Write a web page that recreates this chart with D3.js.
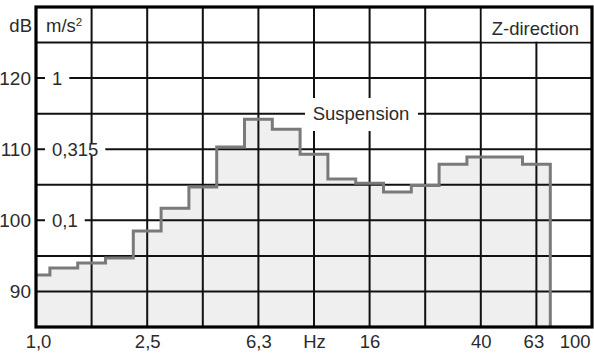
<!DOCTYPE html>
<html>
<head>
<meta charset="utf-8">
<script src="https://cdn.jsdelivr.net/npm/d3@7"></script>
<style>
  html, body { margin: 0; padding: 0; background: #fff; }
  svg { display: block; }
  text { font-family: "Liberation Sans", Arial, Helvetica, sans-serif; fill: #2b2b2b; }
</style>
</head>
<body>
<svg id="chart" width="594" height="353"></svg>
<script>
// ---- data ----
const bandCenters = [1.0, 1.25, 1.6, 2, 2.5, 3.15, 4, 5, 6.3, 8, 10, 12.5, 16, 20, 25, 31.5, 40, 50, 63];
const levelsDb   = [92.3, 93.3, 94.0, 94.7, 98.5, 101.7, 104.7, 110.3, 114.2, 112.8, 109.3, 105.8, 105.2, 104.0, 104.9, 107.9, 108.9, 108.9, 107.9];
const xGridIndex = [0, 1, 2, 3, 4, 5, 6, 7, 8, 9, 10];           // fifths of a decade
const xTickIndex = [0, 2, 4, 5, 6, 8, 9, 10];
const xTickLabels = ["1,0", "2,5", "6,3", "Hz", "16", "40", "63", "100"];
const dbGrid = [90, 95, 100, 105, 110, 115, 120, 125];
const dbTicks = [120, 110, 100, 90];
const accelTicksDb = [120, 110, 100];
const accelLabels = ["1", "0,315", "0,1"];

// ---- layout ----
const svg = d3.select("#chart");
const L = 36, R = 592, T = 7, B = 327;
const x = d3.scaleLog().domain([1, 100]).range([L, R]);
const y = d3.scaleLinear().domain([85, 130]).range([B, T]);
const fifth = i => Math.pow(10, i / 5);
const edgeLo = i => Math.max(1, Math.pow(10, (i - 0.5) / 10));
const edgeHi = i => Math.pow(10, (i + 0.5) / 10);

// step points
const pts = bandCenters.map((c, i) => [edgeLo(i), levelsDb[i]]);
const lastI = bandCenters.length - 1;
pts.push([edgeHi(lastI), levelsDb[lastI]]);

// fill
const area = d3.area().curve(d3.curveStepAfter)
  .x(d => x(d[0])).y0(y(85)).y1(d => y(d[1]));
svg.append("path").datum(pts).attr("d", area).attr("fill", "#efefef");

// grid
const grid = svg.append("g").attr("stroke", "#111").attr("stroke-width", 2);
grid.selectAll("line.v").data(xGridIndex.slice(1, -1)).join("line")
  .attr("x1", i => x(fifth(i))).attr("x2", i => x(fifth(i)))
  .attr("y1", T).attr("y2", B);
grid.selectAll("line.h").data(dbGrid).join("line")
  .attr("x1", L).attr("x2", R)
  .attr("y1", d => y(d)).attr("y2", d => y(d));

// step line
const linePts = pts.concat([[edgeHi(lastI), 85]]);
const line = d3.line().curve(d3.curveStepAfter).x(d => x(d[0])).y(d => y(d[1]));
svg.append("path").datum(linePts).attr("d", line)
  .attr("fill", "none").attr("stroke", "#7a7a7a").attr("stroke-width", 3);

// white label boxes
const fs = 18.5;
// Z-direction box
svg.append("rect").attr("x", x(fifth(8)) + 1).attr("y", T + 1)
  .attr("width", R - x(fifth(8)) - 2).attr("height", y(125) - T - 2).attr("fill", "#fff");
svg.append("text").attr("x", (x(fifth(8)) + R) / 2 - 1).attr("y", 35)
  .attr("text-anchor", "middle").attr("font-size", fs).text("Z-direction");

// Suspension box
svg.append("rect").attr("x", 305).attr("y", 98).attr("width", 113).attr("height", 33).attr("fill", "#fff");
svg.append("text").attr("x", 361).attr("y", 119.5).attr("text-anchor", "middle")
  .attr("font-size", fs).text("Suspension");

// frame
svg.append("rect").attr("x", L).attr("y", T).attr("width", R - L).attr("height", B - T)
  .attr("fill", "none").attr("stroke", "#000").attr("stroke-width", 3.2);

// header labels
svg.append("text").attr("x", 32).attr("y", 32).attr("text-anchor", "end").attr("font-size", fs).text("dB");
const ms = svg.append("text").attr("x", 46).attr("y", 32).attr("font-size", fs);
ms.append("tspan").text("m/s");
ms.append("tspan").attr("font-size", 11.5).attr("dy", -6.5).text("2");

// dB axis labels
svg.selectAll("text.db").data(dbTicks).join("text").attr("class", "db")
  .attr("x", 31).attr("y", d => y(d) + 6.8).attr("text-anchor", "end")
  .attr("font-size", 19).text(d => d);

// acceleration labels with white gaps
accelTicksDb.forEach((d, i) => {
  const t = svg.append("text").attr("x", 52).attr("y", y(d) + 6.8)
    .attr("font-size", fs).text(accelLabels[i]);
  const w = t.node().getComputedTextLength();
  svg.insert("rect", () => t.node()).attr("x", 45).attr("y", y(d) - 6)
    .attr("width", w + 14).attr("height", 12).attr("fill", "#fff");
});

// x axis labels via d3 axis
const xAxis = d3.axisBottom(x)
  .tickValues(xTickIndex.map(fifth))
  .tickSize(0).tickPadding(0)
  .tickFormat((d, i) => xTickLabels[i]);
const gx = svg.append("g").attr("transform", `translate(0, ${B + 8})`).call(xAxis);
gx.select(".domain").remove();
gx.selectAll("text")
  .attr("font-size", fs).attr("fill", "#2b2b2b")
  .attr("font-family", '"Liberation Sans", Arial, sans-serif')
  .attr("dy", "0.71em");
gx.selectAll(".tick").filter((d, i) => i === xTickLabels.length - 1)
  .select("text").attr("text-anchor", "end").attr("x", -2);
gx.selectAll(".tick").filter((d, i) => i === 0)
  .select("text").attr("x", 2);
gx.selectAll(".tick").filter((d, i) => i === 6)
  .select("text").attr("x", -3);
</script>
</body>
</html>
